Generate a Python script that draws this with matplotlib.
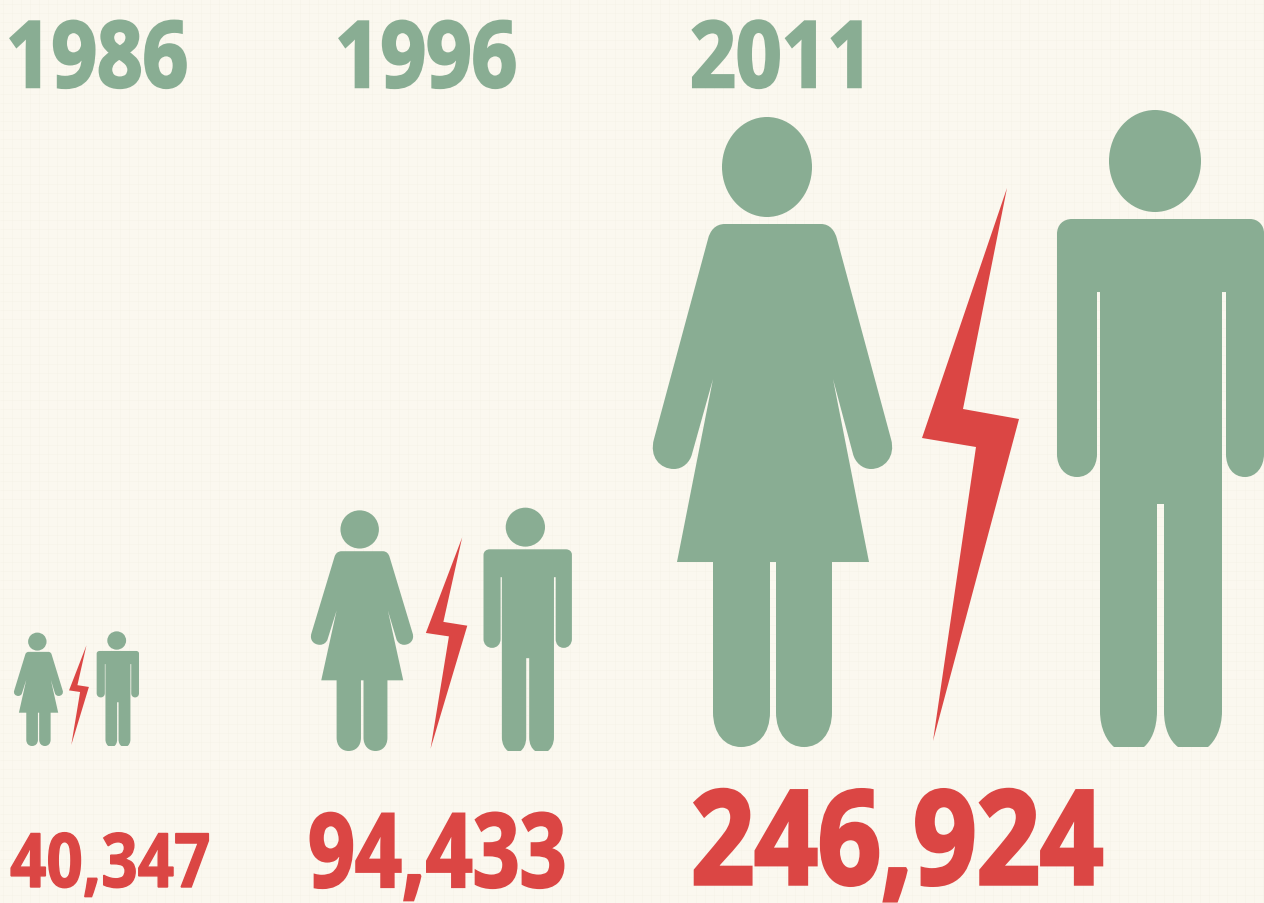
import numpy as np
import matplotlib
matplotlib.use("Agg")
import matplotlib.pyplot as plt
import matplotlib.patheffects as pe
from matplotlib.path import Path
from matplotlib.patches import PathPatch, Ellipse
from matplotlib.transforms import Affine2D

# data
years = [1986, 1996, 2011]
totals = [40347, 94433, 246924]

GREEN = "#89AD93"
RED = "#DB4644"
CREAM = "#FBF8EF"
FONT = ["Open Sans", "DejaVu Sans"]

# where each group of figures goes: left edge, baseline, x scale, y scale
groups = [(14, 747, 0.2046, 0.180), (311, 752, 0.427, 0.382), (653, 748, 1.0, 1.0)]
# x, baseline, font size, horizontal squeeze, stroke
year_pos = [(6, 88, 66, 0.87, 1.8), (335, 88, 66, 0.87, 1.8), (690, 88, 66, 0.875, 1.8)]
total_pos = [(10, 888, 54, 0.85, 1.0), (308, 888, 74, 0.80, 1.6), (691, 885, 94, 0.85, 2.5)]


class Squeeze(pe.AbstractPathEffect):
    # narrows the text about its own origin and thickens it, the font has no condensed cut
    def __init__(self, k, lw):
        super().__init__()
        self.k = k
        self.lw = lw

    def draw_path(self, renderer, gc, tpath, affine, rgbFace=None):
        x0 = affine.get_matrix()[0, 2]
        tr = affine + Affine2D().translate(-x0, 0).scale(self.k, 1).translate(x0, 0)
        gc0 = renderer.new_gc()
        gc0.copy_properties(gc)
        gc0.set_linewidth(self.lw)
        gc0.set_foreground(rgbFace)
        gc0.set_joinstyle("miter")
        renderer.draw_path(gc0, tpath, tr, rgbFace)
        gc0.restore()


def outline(cmds):
    verts = []
    codes = []
    for c in cmds:
        if len(c) == 2:
            codes.append(Path.LINETO if verts else Path.MOVETO)
            verts.append(c)
        else:
            # bezier: two controls and an end point
            verts += [c[:2], c[2:4], c[4:6]]
            codes += [Path.CURVE4] * 3
    verts.append(verts[0])
    codes.append(Path.CLOSEPOLY)
    return Path(verts, codes)


# outlines are traced at the size of the 2011 figures
woman = outline([
    (725, 225), (821, 225), (830, 225, 835, 232, 837, 240),
    (891, 440), (896, 458, 884, 470, 871, 470), (862, 470, 855, 463, 853, 455),
    (833, 380), (869, 563), (832, 563), (832, 713),
    (832, 735, 820, 748, 804, 748), (788, 748, 776, 735, 776, 713),
    (776, 563), (770, 563), (770, 713),
    (770, 735, 758, 748, 741, 748), (725, 748, 713, 735, 713, 713),
    (713, 563), (677, 563), (713, 380), (692, 455),
    (690, 463, 683, 470, 674, 470), (660, 470, 649, 458, 654, 440),
    (708, 240), (710, 232, 715, 225, 725, 225),
])
man = outline([
    (1072, 220), (1250, 220), (1258, 220, 1264, 226, 1264, 234),
    (1264, 455), (1264, 468, 1256, 478, 1245, 478), (1233, 478, 1226, 468, 1226, 455),
    (1226, 293), (1222, 293), (1222, 712),
    (1222, 730, 1215, 742, 1208, 748), (1178, 748), (1170, 742, 1164, 730, 1164, 712),
    (1164, 505), (1157, 505), (1157, 712),
    (1157, 730, 1151, 742, 1144, 748), (1114, 748), (1107, 742, 1100, 730, 1100, 712),
    (1100, 293), (1097, 293), (1097, 455),
    (1097, 468, 1089, 478, 1077, 478), (1065, 478, 1057, 468, 1057, 455),
    (1057, 235), (1057, 226, 1063, 220, 1072, 220),
])
bolt = outline([(1007, 189), (963, 410), (1019, 420), (933, 742), (976, 448), (922, 439)])

fig = plt.figure(figsize=(12.64, 9.04), dpi=100, facecolor=CREAM)
ax = fig.add_axes([0, 0, 1, 1])
ax.set_xlim(0, 1264)
ax.set_ylim(904, 0)
ax.axis("off")

# faint weave of the paper
ax.vlines(np.arange(3, 1264, 9), 0, 904, color="#F5F1E4", lw=0.7, alpha=0.35, zorder=0)
ax.hlines(np.arange(5, 904, 9), 0, 1264, color="#F5F1E4", lw=0.7, alpha=0.35, zorder=0)

for (x0, y0, sx, sy) in groups:
    tr = Affine2D().translate(-653, -748).scale(sx, sy).translate(x0, y0) + ax.transData
    for shape, col in [(woman, GREEN), (man, GREEN), (bolt, RED)]:
        ax.add_patch(PathPatch(shape, fc=col, ec="none", transform=tr, snap=False))
    ax.add_patch(Ellipse((767, 168), 90, 100, fc=GREEN, ec="none", transform=tr))
    ax.add_patch(Ellipse((1155, 162), 92, 102, fc=GREEN, ec="none", transform=tr))

for year, (x, y, size, k, lw) in zip(years, year_pos):
    t = ax.text(x, y, str(year), color=GREEN, fontsize=size, fontweight="bold",
                family=FONT, ha="left", va="baseline")
    t.set_path_effects([Squeeze(k, lw)])

for total, (x, y, size, k, lw) in zip(totals, total_pos):
    t = ax.text(x, y, f"{total:,}", color=RED, fontsize=size, fontweight="bold",
                family=FONT, ha="left", va="baseline")
    t.set_path_effects([Squeeze(k, lw)])

fig.savefig("out.png", dpi=100, facecolor=CREAM)
